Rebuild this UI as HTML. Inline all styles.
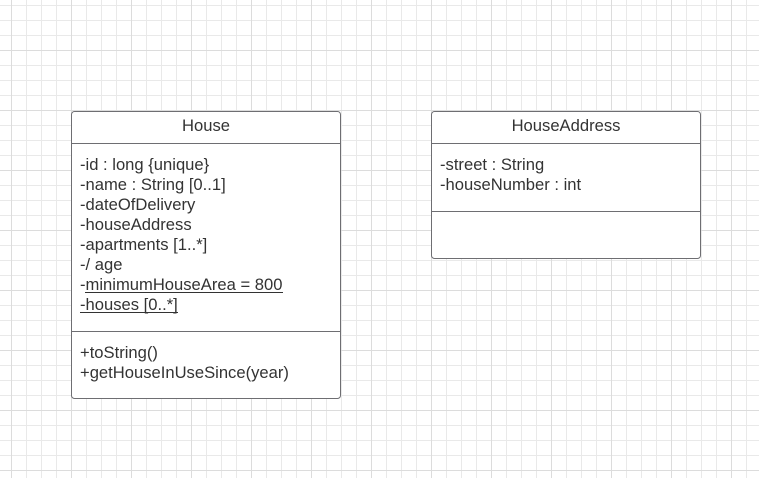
<!DOCTYPE html>
<html><head><meta charset="utf-8"><style>
html,body{margin:0;padding:0;background:#fff;}
svg{display:block}
text{font-family:"Liberation Sans",Arial,sans-serif;font-size:16.6px;fill:#333;}
</style></head><body>
<svg width="759" height="478" viewBox="0 0 759 478" xmlns="http://www.w3.org/2000/svg">
<defs>
<pattern id="minor" x="11" y="5" width="15" height="15" patternUnits="userSpaceOnUse">
<path d="M0.5 0V15M0 0.5H15" stroke="#e9e9e9" stroke-width="1" fill="none"/>
</pattern>
<pattern id="major" x="11" y="50" width="60" height="60" patternUnits="userSpaceOnUse">
<path d="M0.5 0V60M0 0.5H60" stroke="#dcdcdc" stroke-width="1" fill="none"/>
</pattern>
</defs>
<rect width="759" height="478" fill="#fff"/>
<rect width="759" height="478" fill="url(#minor)"/>
<rect width="759" height="478" fill="url(#major)"/>

<g stroke="#6e6e72" stroke-width="1" fill="#fff">
<rect x="71.5" y="111.5" width="269" height="287" rx="3"/>
<line x1="71.5" y1="143.5" x2="340.5" y2="143.5"/>
<line x1="71.5" y1="331.5" x2="340.5" y2="331.5"/>
<rect x="431.5" y="111.5" width="269" height="147" rx="3"/>
<line x1="431.5" y1="143.5" x2="700.5" y2="143.5"/>
<line x1="431.5" y1="211.5" x2="700.5" y2="211.5"/>
</g>

<text x="206" y="131" text-anchor="middle">House</text>
<text x="80" y="170">-id : long {unique}</text>
<text x="80" y="190">-name : String [0..1]</text>
<text x="80" y="210">-dateOfDelivery</text>
<text x="80" y="230">-houseAddress</text>
<text x="80" y="250">-apartments [1..*]</text>
<text x="80" y="270">-/ age</text>
<text x="80" y="290">-minimumHouseArea = 800</text>
<text x="80" y="310">-houses [0..*]</text>
<g stroke="#333" stroke-width="1">
<line x1="85" y1="292.5" x2="283" y2="292.5"/>
<line x1="80" y1="312.5" x2="178" y2="312.5"/>
</g>
<text x="80" y="358">+toString()</text>
<text x="80" y="378">+getHouseInUseSince(year)</text>

<text x="566" y="131" text-anchor="middle">HouseAddress</text>
<text x="440" y="170">-street : String</text>
<text x="440" y="190">-houseNumber : int</text>
</svg>
</body></html>
